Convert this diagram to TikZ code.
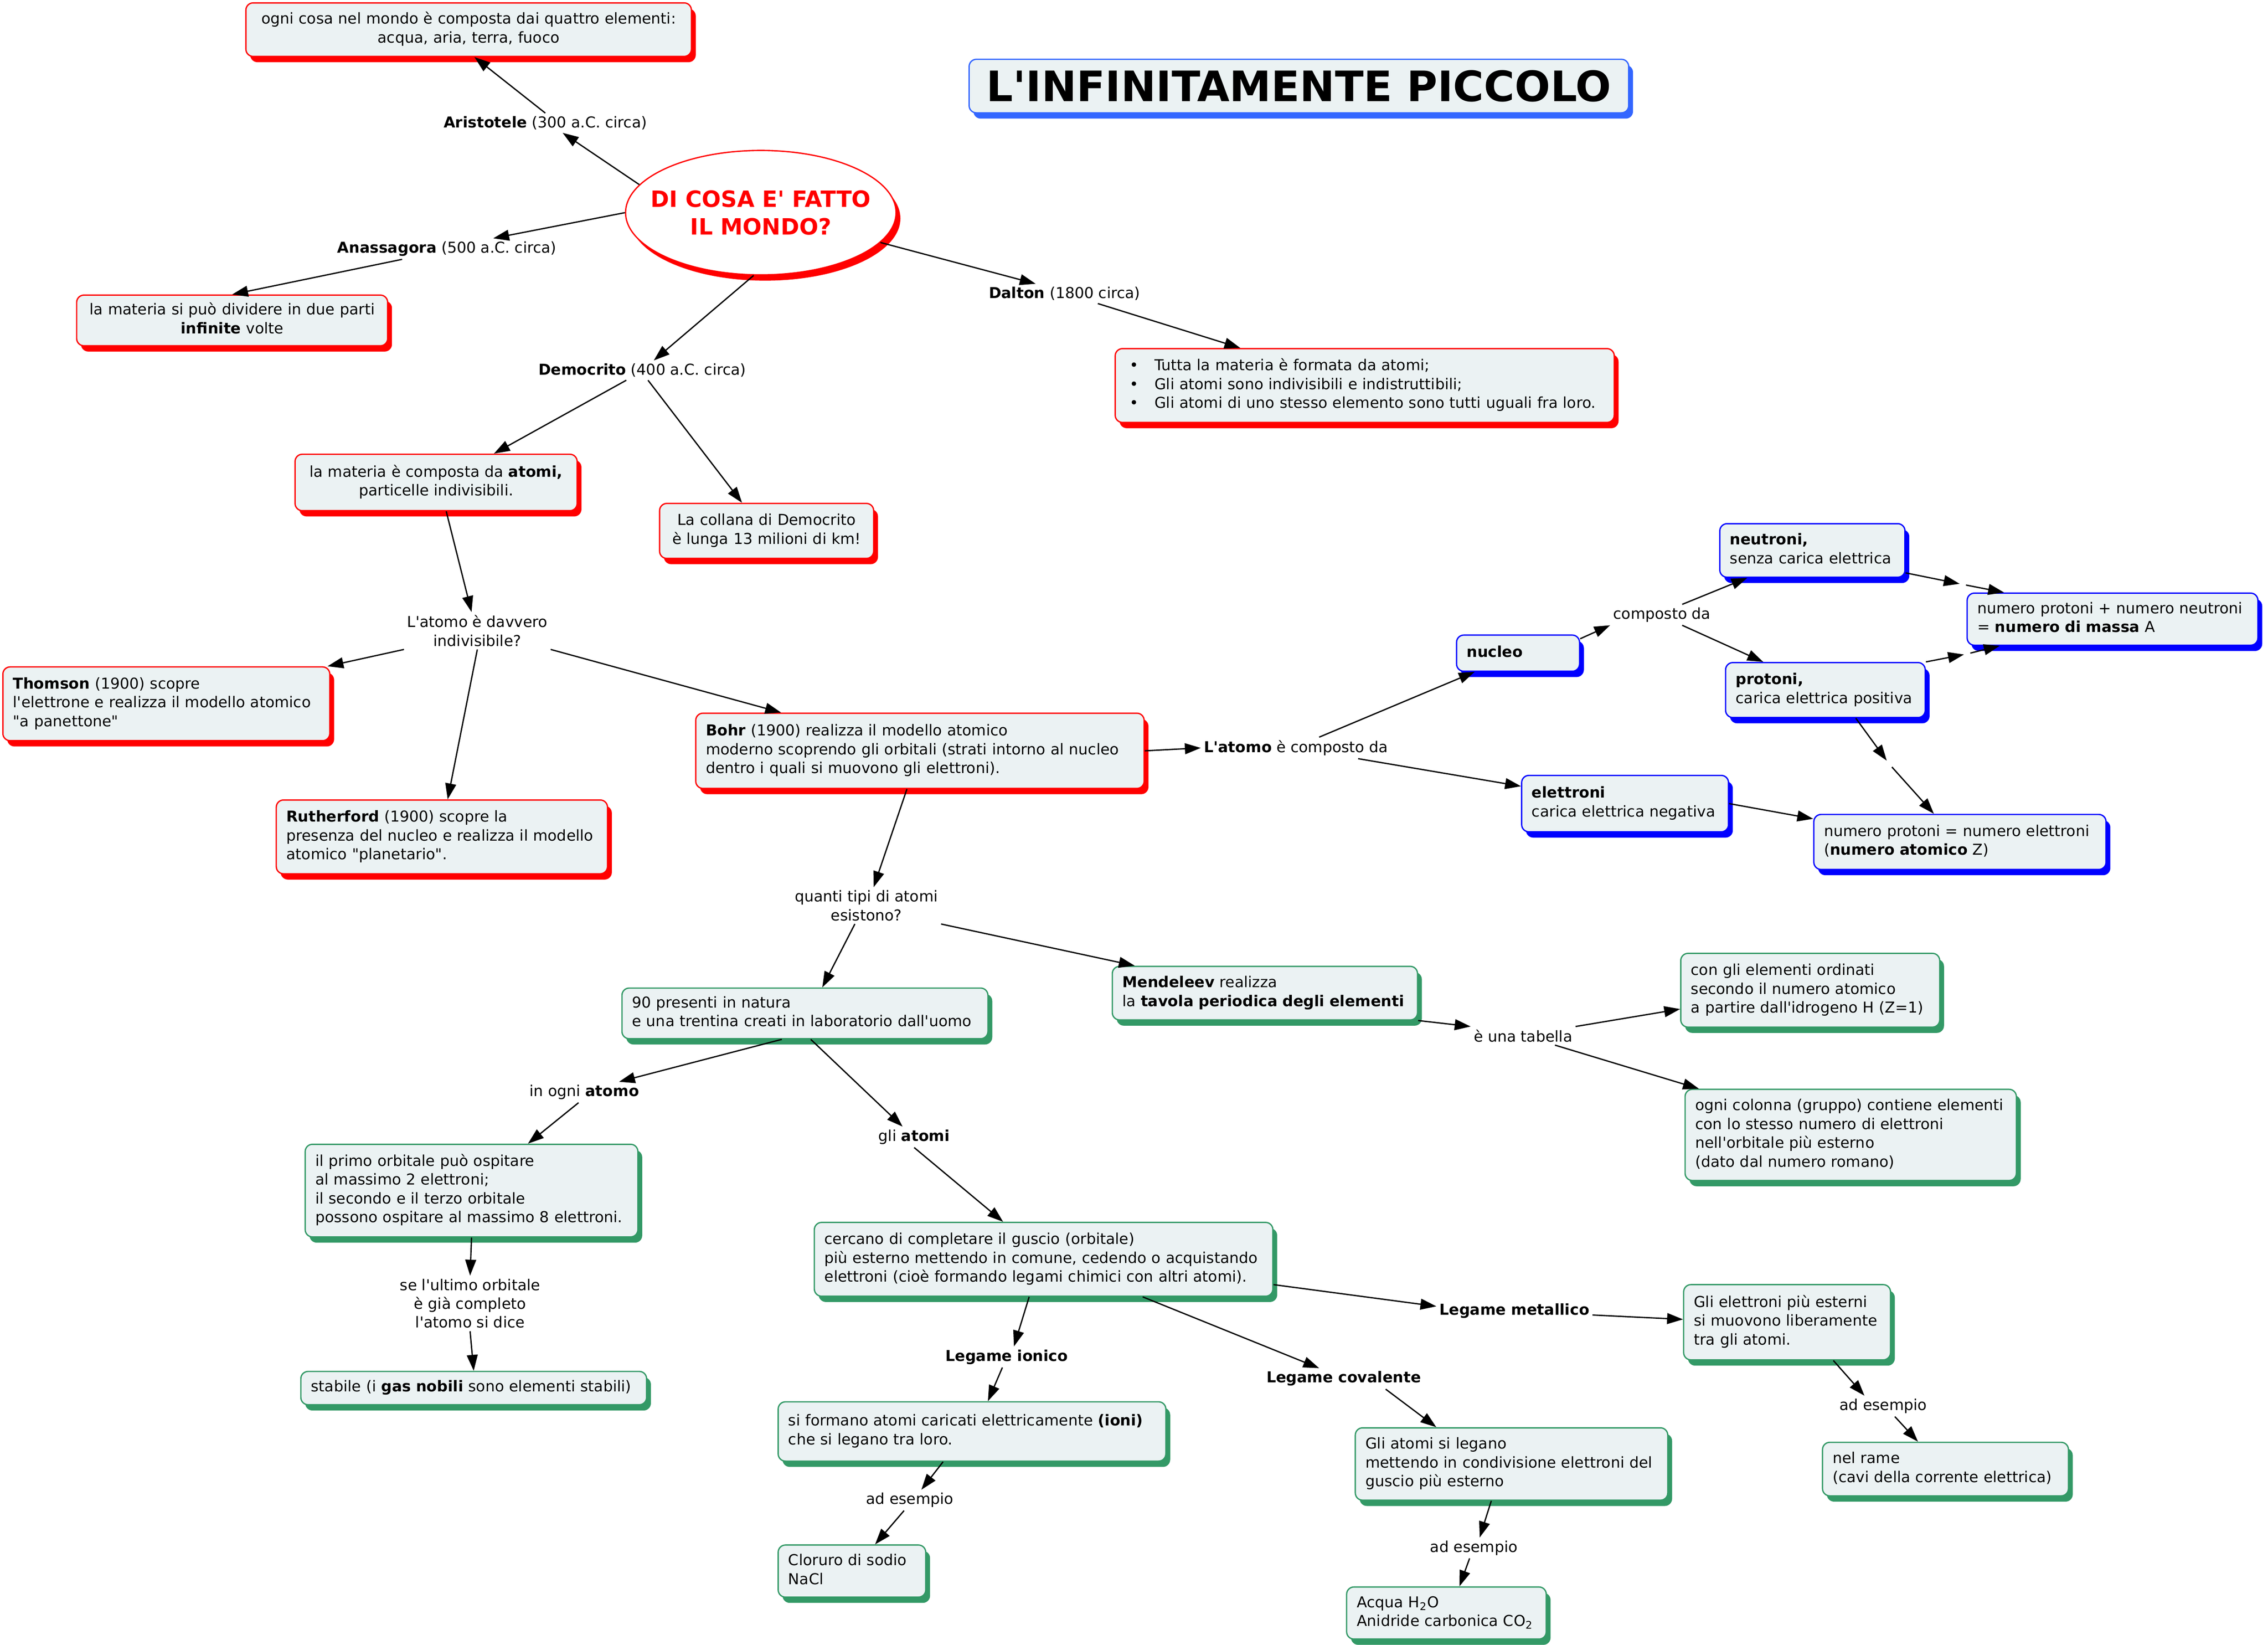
\documentclass[tikz,border=0pt]{standalone}
\usepackage{fontspec}
\setmainfont{DejaVu Sans}[Ligatures=TeXOff]
\usetikzlibrary{arrows.meta,shapes.geometric,shadows}
\definecolor{cred}{HTML}{FF0000}
\definecolor{cblue}{HTML}{0000FF}
\definecolor{tblue}{HTML}{3366FF}
\definecolor{cgreen}{HTML}{339966}
\definecolor{boxfill}{HTML}{EBF2F3}
\newcommand{\mkL}[1]{\begin{tabular}{@{}l@{}}#1\end{tabular}}
\newcommand{\mkC}[1]{\begin{tabular}{@{}c@{}}#1\end{tabular}}
\tikzset{
  every node/.style={font=\fontsize{10.4}{13}\selectfont},
  box/.style={draw, rounded corners=5pt, fill=boxfill, line width=0.9pt, inner xsep=7pt, inner ysep=0pt},
  rbox/.style={box, draw=cred, drop shadow={shadow xshift=3pt, shadow yshift=-4pt, fill=cred, opacity=1}},
  bbox/.style={box, draw=cblue, drop shadow={shadow xshift=3pt, shadow yshift=-4pt, fill=cblue, opacity=1}},
  gbox/.style={box, draw=cgreen, drop shadow={shadow xshift=3pt, shadow yshift=-4pt, fill=cgreen, opacity=1}},
  lbl/.style={inner sep=2pt, align=center},
  jn/.style={inner sep=2pt},
  arr/.style={-{Triangle[length=11pt,width=7.5pt]}, line width=0.9pt},
}
\begin{document}
\begin{tikzpicture}[x=1pt,y=-1pt]
\fill[white] (0,0) rectangle (1568,1137);
\useasboundingbox (0,0) rectangle (1568,1137);

% title
\node[box, draw=tblue, inner xsep=0pt, minimum width=456pt, minimum height=37pt,
  drop shadow={shadow xshift=3pt, shadow yshift=-4pt, fill=tblue, opacity=1},
  font=\fontsize{29}{32}\selectfont\bfseries] (title) at (898,59.5) {L'INFINITAMENTE PICCOLO};

% central ellipse
\node[ellipse, draw=cred, fill=white, line width=0.9pt, minimum width=187pt, minimum height=86pt, inner sep=0pt,
  drop shadow={shadow xshift=3pt, shadow yshift=-4pt, fill=cred, opacity=1},
  label={[text=cred, align=center, font=\fontsize{15.5}{19}\selectfont\bfseries]center:DI COSA E' FATTO\\IL MONDO?}] (e) at (526,147) {};

% red boxes
\node[rbox, text width=294pt, align=center, minimum height=37pt] (r1) at (324,20.5)
  {\mkC{ogni cosa nel mondo è composta dai quattro elementi:\\acqua, aria, terra, fuoco}};
\node[rbox, text width=201pt, align=center, minimum height=35pt] (r2) at (160.5,221.5)
  {\mkC{la materia si può dividere in due parti\\\textbf{infinite} volte}};
\node[rbox, text width=331pt, align=left, minimum height=51pt] (r3) at (943.5,266.5)
  {\mkL{\hspace{3pt}\textbullet\hspace{11pt}Tutta la materia è formata da atomi;\\
  \hspace{3pt}\textbullet\hspace{11pt}Gli atomi sono indivisibili e indistruttibili;\\
  \hspace{3pt}\textbullet\hspace{11pt}Gli atomi di uno stesso elemento sono tutti uguali fra loro.}};
\node[rbox, text width=181pt, align=center, minimum height=39pt] (r4) at (301.5,333.5)
  {\mkC{la materia è composta da \textbf{atomi,}\\particelle indivisibili.}};
\node[rbox, text width=134pt, align=center, minimum height=38pt] (r5) at (530,367)
  {\mkC{La collana di Democrito\\è lunga 13 milioni di km!}};
\node[rbox, text width=212pt, align=left, minimum height=51pt] (r6) at (115,486.5)
  {\mkL{\textbf{Thomson} (1900) scopre\\l'elettrone e realizza il modello atomico\\"a panettone"}};
\node[rbox, text width=215pt, align=left, minimum height=51pt] (r7) at (305.5,578.5)
  {\mkL{\textbf{Rutherford} (1900) scopre la\\presenza del nucleo e realizza il modello\\atomico "planetario".}};
\node[rbox, text width=296pt, align=left, minimum height=52pt] (r8) at (636,519)
  {\mkL{\textbf{Bohr} (1900) realizza il modello atomico\\moderno scoprendo gli orbitali (strati intorno al nucleo\\dentro i quali si muovono gli elettroni).}};

% blue boxes
\node[bbox, text width=71pt, align=left, minimum height=25pt] (b1) at (1049.5,451.5) {\mkL{\textbf{nucleo}}};
\node[bbox, text width=114pt, align=left, minimum height=37pt] (b2) at (1253,380.5) {\mkL{\textbf{neutroni,}\\senza carica elettrica}};
\node[bbox, text width=124pt, align=left, minimum height=38pt] (b3) at (1262,477) {\mkL{\textbf{protoni,}\\carica elettrica positiva}};
\node[bbox, text width=187pt, align=left, minimum height=36pt] (b4) at (1460.5,428) {\mkL{numero protoni + numero neutroni\\= \textbf{numero di massa} A}};
\node[bbox, text width=129pt, align=left, minimum height=39pt] (b5) at (1123.5,555.5) {\mkL{\textbf{elettroni}\\carica elettrica negativa}};
\node[bbox, text width=188pt, align=left, minimum height=38pt] (b6) at (1355,582) {\mkL{numero protoni = numero elettroni\\(\textbf{numero atomico} Z)}};

% green boxes
\node[gbox, text width=239pt, align=left, minimum height=35pt] (g1) at (556.5,700.5) {\mkL{90 presenti in natura\\e una trentina creati in laboratorio dall'uomo}};
\node[gbox, text width=197pt, align=left, minimum height=37pt] (g2) at (874.5,686.5) {\mkL{\textbf{Mendeleev} realizza\\la \textbf{tavola periodica degli elementi}}};
\node[gbox, text width=165pt, align=left, minimum height=51pt] (g3) at (1251.5,684.5) {\mkL{con gli elementi ordinati\\secondo il numero atomico\\a partire dall'idrogeno H (Z=1)}};
\node[gbox, text width=215pt, align=left, minimum height=63pt] (g4) at (1279.5,784.5) {\mkL{ogni colonna (gruppo) contiene elementi\\con lo stesso numero di elettroni\\nell'orbitale più esterno\\(dato dal numero romano)}};
\node[gbox, text width=216pt, align=left, minimum height=64pt] (g5) at (326,823) {\mkL{il primo orbitale può ospitare\\al massimo 2 elettroni;\\il secondo e il terzo orbitale\\possono ospitare al massimo 8 elettroni.}};
\node[gbox, text width=225pt, align=left, minimum height=23pt] (g6) at (327.5,959.5) {\mkL{stabile (i \textbf{gas nobili} sono elementi stabili)}};
\node[gbox, text width=303pt, align=left, minimum height=51pt] (g7) at (721.5,870.5) {\mkL{cercano di completare il guscio (orbitale)\\più esterno mettendo in comune, cedendo o acquistando\\elettroni (cioè formando legami chimici con altri atomi).}};
\node[gbox, text width=129pt, align=left, minimum height=52pt] (g8) at (1235.5,914) {\mkL{Gli elettroni più esterni\\si muovono liberamente\\tra gli atomi.}};
\node[gbox, text width=254pt, align=left, minimum height=41pt] (g9) at (672,989.5) {\mkL{si formano atomi caricati elettricamente \textbf{(ioni)}\\che si legano tra loro.}};
\node[gbox, text width=202pt, align=left, minimum height=50pt] (g10) at (1045,1012) {\mkL{Gli atomi si legano\\mettendo in condivisione elettroni del\\guscio più esterno}};
\node[gbox, text width=88pt, align=left, minimum height=36pt] (g11) at (589,1086) {\mkL{Cloruro di sodio\\NaCl}};
\node[gbox, text width=156pt, align=left, minimum height=37pt] (g12) at (1345,1015.5) {\mkL{nel rame\\(cavi della corrente elettrica)}};
\node[gbox, text width=124pt, align=left, minimum height=36pt] (g13) at (1000,1115) {\mkL{Acqua H\textsubscript{2}O\\Anidride carbonica CO\textsubscript{2}}};

% linking phrases
\node[lbl] (la) at (377,85) {\textbf{Aristotele} (300 a.C. circa)};
\node[lbl] (lan) at (309,172) {\textbf{Anassagora} (500 a.C. circa)};
\node[lbl] (ld) at (444,256) {\textbf{Democrito} (400 a.C. circa)};
\node[lbl] (ldal) at (736,203) {\textbf{Dalton} (1800 circa)};
\node[lbl] (lind) at (330,436) {L'atomo è davvero\\indivisibile?};
\node[lbl] (lcomp) at (896,517) {\textbf{L'atomo} è composto da};
\node[lbl] (lcd) at (1149,425) {composto da};
\node[lbl] (lq) at (599,626) {quanti tipi di atomi\\esistono?};
\node[lbl] (logni) at (404,755) {in ogni \textbf{atomo}};
\node[lbl] (lgli) at (632,786) {gli \textbf{atomi}};
\node[lbl] (ltab) at (1053,716) {è una tabella};
\node[lbl] (lse) at (325,901) {se l'ultimo orbitale\\è già completo\\l'atomo si dice};
\node[lbl] (lion) at (696,938) {\textbf{Legame ionico}};
\node[lbl] (lcov) at (929,953) {\textbf{Legame covalente}};
\node[lbl] (lmet) at (1047,906) {\textbf{Legame metallico}};
\node[lbl] (les1) at (629,1037) {ad esempio};
\node[lbl] (les2) at (1019,1070) {ad esempio};
\node[lbl] (les3) at (1302,972) {ad esempio};

% junctions
\node[jn] (j1) at (1357,404) {};
\node[jn] (j2) at (1360,452) {};
\node[jn] (j3) at (1306,528) {};

% connectors
\draw[arr] (e.167) -- ([xshift=12pt]la.south);
\draw[arr] (la.north) -- ([xshift=4pt]r1.south);
\draw[arr] (e.west) -- ([xshift=32pt]lan.north);
\draw[arr] ([xshift=-31pt]lan.south) -- (r2.north);
\draw[arr] ([xshift=-5pt]e.south) -- ([xshift=8pt]ld.north);
\draw[arr] ([xshift=-11pt]ld.south) -- ([xshift=40pt]r4.north);
\draw[arr] ([xshift=4pt]ld.south) -- ([xshift=-17pt]r5.north);
\draw[arr] (e.-14) -- ([xshift=-20pt]ldal.north);
\draw[arr] ([xshift=23pt]ldal.south) -- ([xshift=-86pt]r3.north);
\draw[arr] ([xshift=7pt]r4.south) -- ([xshift=-4pt]lind.north);
\draw[arr] (lind.south west) -- ([xshift=-2pt]r6.north east);
\draw[arr] (lind.south) -- ([xshift=4pt]r7.north);
\draw[arr] (lind.south east) -- ([xshift=-96pt]r8.north);
\draw[arr] (r8.east) -- (lcomp.west);
\draw[arr] ([xshift=16pt]lcomp.north) -- ([xshift=-30pt]b1.south);
\draw[arr] ([xshift=43pt]lcomp.south) -- ([yshift=12pt]b5.west);
\draw[arr] ([yshift=-3pt]b1.north east) -- (lcd.south west);
\draw[arr] ([xshift=14pt]lcd.north) -- ([xshift=-45pt]b2.south);
\draw[arr] ([xshift=14pt]lcd.south) -- ([xshift=-43pt]b3.north);
\draw[arr] ([yshift=-15.5pt]b2.east) -- (j1);
\draw[arr] (j1) -- ([xshift=-75pt]b4.north);
\draw[arr] (b3.north east) -- (j2);
\draw[arr] (j2) -- ([xshift=-78pt]b4.south);
\draw[arr] ([xshift=21pt]b3.south) -- (j3);
\draw[arr] (j3) -- ([xshift=-18pt]b6.north);
\draw[arr] (b5.east) -- ([yshift=16pt]b6.west);
\draw[arr] ([xshift=-9pt]r8.south) -- ([xshift=5pt]lq.north);
\draw[arr] ([xshift=-8pt]lq.south) -- ([xshift=12pt]g1.north);
\draw[arr] (lq.south east) -- ([xshift=-90pt]g2.north);
\draw[arr] (g2.south east) -- (ltab.north west);
\draw[arr] (ltab.north east) -- ([yshift=-13pt]g3.west);
\draw[arr] ([xshift=22pt]ltab.south) -- ([xshift=-105pt]g4.north);
\draw[arr] ([xshift=-16pt]g1.south) -- ([xshift=24pt]logni.north);
\draw[arr] ([xshift=-4pt]logni.south) -- ([xshift=39pt]g5.north);
\draw[arr] (g5.south) -- (lse.north);
\draw[arr] (lse.south) -- (g6.north);
\draw[arr] ([xshift=4pt]g1.south) -- ([xshift=-8pt]lgli.north);
\draw[arr] (lgli.south) -- ([xshift=-28pt]g7.north);
\draw[arr] ([xshift=-10pt]g7.south) -- ([xshift=5pt]lion.north);
\draw[arr] ([xshift=-3pt]lion.south) -- ([xshift=11pt]g9.north);
\draw[arr] ([xshift=-20pt]g9.south) -- ([xshift=8pt]les1.north);
\draw[arr] ([xshift=-4pt]les1.south) -- ([xshift=16pt]g11.north);
\draw[arr] ([xshift=68.5pt]g7.south) -- ([xshift=-17pt]lcov.north);
\draw[arr] ([xshift=29pt]lcov.south) -- ([xshift=-52pt]g10.north);
\draw[arr] ([xshift=-14pt]g10.south) -- ([xshift=4pt]les2.north);
\draw[arr] ([xshift=-3pt]les2.south) -- ([xshift=9pt]g13.north);
\draw[arr] ([yshift=-17.5pt]g7.east) -- ([yshift=3pt]lmet.west);
\draw[arr] ([yshift=-3pt]lmet.east) -- ([yshift=2pt]g8.west);
\draw[arr] ([xshift=32pt]g8.south) -- ([xshift=-13pt]les3.north);
\draw[arr] ([xshift=8pt]les3.south) -- ([xshift=-19pt]g12.north);
\end{tikzpicture}
\end{document}
